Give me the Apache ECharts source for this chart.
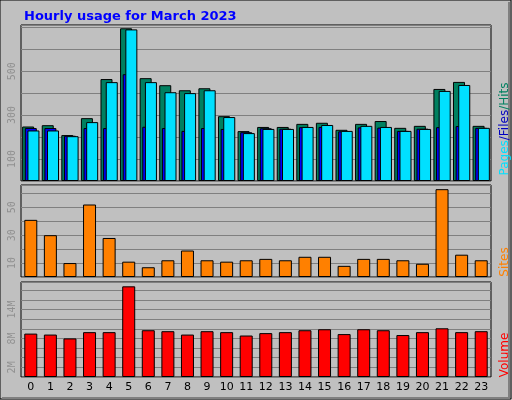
<!DOCTYPE html>
<html>
<head>
<meta charset="utf-8">
<script src="https://cdn.jsdelivr.net/npm/echarts@6/dist/echarts.min.js"></script>
<style>html,body{margin:0;padding:0;background:#fff}#main{width:512px;height:400px}</style>
</head>
<body>
<div id="main"></div>
<script>
// hours of the day
var hours = ['0','1','2','3','4','5','6','7','8','9','10','11','12','13','14','15','16','17','18','19','20','21','22','23'];
var hits  = [248,254,209,286,464,695,468,436,413,422,295,227,246,246,260,265,233,260,273,242,251,419,451,251];
var files = [241,241,206,241,241,486,247,241,228,241,237,222,240,238,245,246,226,244,243,228,238,245,250,242];
var pages = [230,230,204,268,450,690,450,404,400,413,291,218,237,237,246,255,228,251,246,228,237,410,437,242];
var sites = [41,30,10,52,28,11,7,12,19,12,11,12,13,12,14.5,14.5,8,13,13,12,9.5,63,16,12];
var volume = [9.0,8.8,8.0,9.3,9.3,18.8,9.7,9.5,8.8,9.5,9.3,8.6,9.1,9.3,9.7,9.9,8.9,9.9,9.7,8.7,9.3,10.1,9.3,9.5];

var chart = echarts.init(document.getElementById('main'));

var gridBase = {left: 21, right: 21, show: true, backgroundColor: '#c0c0c0', borderColor: '#000', borderWidth: 1};
var yBase = function (idx, max, interval, fmt) {
    return {
        type: 'value', gridIndex: idx, min: 0, max: max, interval: interval,
        axisLine: {show: false}, axisTick: {show: false},
        splitLine: {lineStyle: {color: '#808080', width: 1}},
        axisLabel: {rotate: 90, color: '#909090', fontSize: 10, fontFamily: 'DejaVu Sans Mono', margin: 4, formatter: fmt}
    };
};
var xBase = function (idx, showLabel) {
    return {
        type: 'category', gridIndex: idx, data: hours,
        axisLine: {show: false}, axisTick: {show: false},
        axisLabel: {show: showLabel, color: '#000', fontSize: 11, fontFamily: 'DejaVu Sans', margin: 5}
    };
};
var border = {borderColor: '#000', borderWidth: 1};

var option = {
    backgroundColor: '#c0c0c0',
    animation: false,
    title: {
        text: 'Hourly usage for March 2023', left: 19, top: 5,
        textStyle: {color: '#0000ff', fontSize: 13, fontWeight: 'bold', fontFamily: 'DejaVu Sans'}
    },
    grid: [
        Object.assign({top: 25, height: 156}, gridBase),
        Object.assign({top: 185, height: 92}, gridBase),
        Object.assign({top: 282, height: 95}, gridBase)
    ],
    xAxis: [xBase(0, false), xBase(1, false), xBase(2, true)],
    yAxis: [
        yBase(0, 710, 100, function (v) { return (v === 100 || v === 300 || v === 500) ? v : ''; }),
        yBase(1, 66, 10, function (v) { return (v === 10 || v === 30 || v === 50) ? v : ''; }),
        yBase(2, 19.7, 2, function (v) { return (v === 2 || v === 8 || v === 14) ? v + 'M' : ''; })
    ],
    series: [
        {name: 'Hits', type: 'bar', xAxisIndex: 0, yAxisIndex: 0, data: hits, barWidth: 12, barGap: '-78%',
            itemStyle: Object.assign({color: '#008060'}, border)},
        {name: 'Files', type: 'bar', xAxisIndex: 0, yAxisIndex: 0, data: files, barWidth: 12, barGap: '-78%',
            itemStyle: Object.assign({color: '#0000ff'}, border)},
        {name: 'Pages', type: 'bar', xAxisIndex: 0, yAxisIndex: 0, data: pages, barWidth: 12, barGap: '-78%',
            itemStyle: Object.assign({color: '#00e0ff'}, border)},
        {name: 'Sites', type: 'bar', xAxisIndex: 1, yAxisIndex: 1, data: sites, barWidth: 13,
            itemStyle: Object.assign({color: '#ff8000'}, border)},
        {name: 'Volume', type: 'bar', xAxisIndex: 2, yAxisIndex: 2, data: volume, barWidth: 13,
            itemStyle: Object.assign({color: '#ff0000'}, border)}
    ],
    graphic: [
        {type: 'rect', shape: {x: 0, y: 0, width: 511, height: 399}, style: {fill: 'none', stroke: '#000', lineWidth: 1}, silent: true},
        {type: 'rect', shape: {x: 2, y: 397, width: 508, height: 2}, style: {fill: '#808080'}, silent: true},
        {type: 'rect', shape: {x: 508, y: 2, width: 2, height: 396}, style: {fill: '#808080'}, silent: true},
        {type: 'text', x: 505, y: 129, rotation: Math.PI / 2,
            style: {text: '{p|Pages}{f|/Files}{h|/Hits}', align: 'center', verticalAlign: 'middle',
                rich: {p: {fill: '#00e0ff', fontSize: 12, fontFamily: 'DejaVu Sans'},
                       f: {fill: '#0000c0', fontSize: 12, fontFamily: 'DejaVu Sans'},
                       h: {fill: '#008060', fontSize: 12, fontFamily: 'DejaVu Sans'}}}},
        {type: 'text', x: 505, y: 262, rotation: Math.PI / 2,
            style: {text: 'Sites', fill: '#ff8000', fontSize: 12, fontFamily: 'DejaVu Sans', align: 'center', verticalAlign: 'middle'}},
        {type: 'text', x: 505, y: 355, rotation: Math.PI / 2,
            style: {text: 'Volume', fill: '#ff0000', fontSize: 12, fontFamily: 'DejaVu Sans', align: 'center', verticalAlign: 'middle'}}
    ]
};
chart.setOption(option);
</script>
</body>
</html>
